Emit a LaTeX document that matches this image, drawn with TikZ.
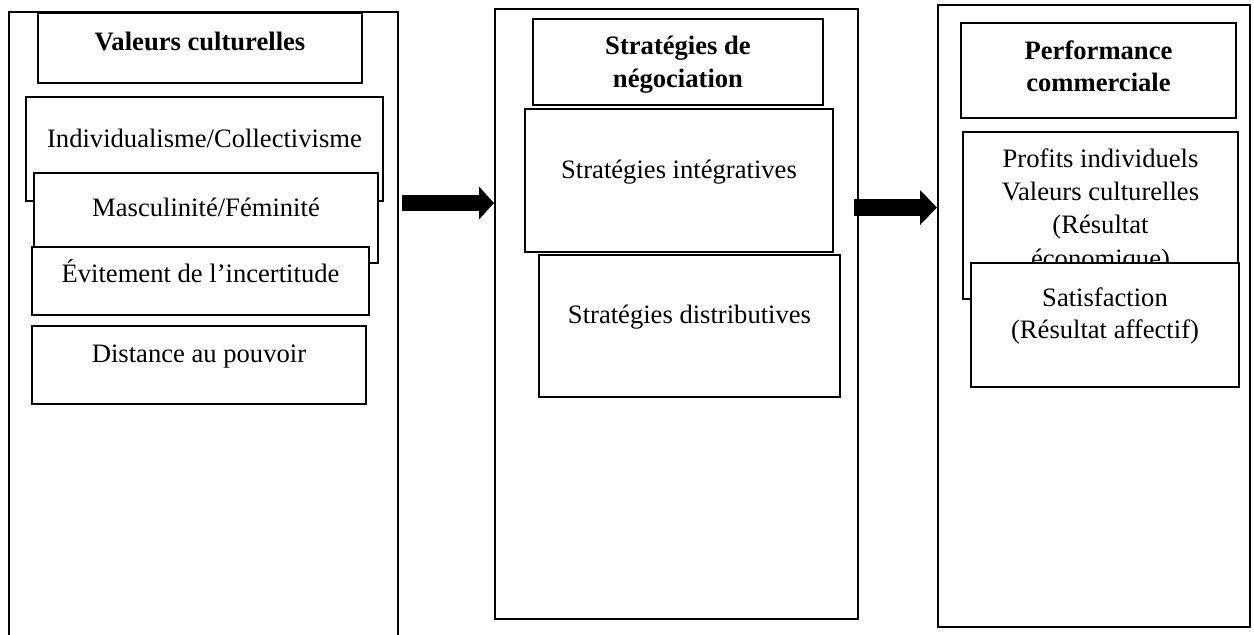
\documentclass[tikz,border=0pt]{standalone}
\usepackage{fontspec}
\setmainfont{Liberation Serif}
\usetikzlibrary{fit,arrows.meta,shadows}
\begin{document}
\begin{tikzpicture}[x=0.5pt,y=-0.5pt,
  box/.style={draw, line width=1pt, fill=white, inner sep=0pt,
    drop shadow={shadow xshift=0pt, shadow yshift=-0.7pt, fill=black!65, opacity=1}},
  frame/.style={box},
  txt/.style={font=\fontsize{13.3}{16}\selectfont, inner sep=0pt, anchor=base},
  btxt/.style={txt, font=\fontsize{13.3}{16}\selectfont\bfseries},
  bigarrowA/.style={line width=8pt, -{Triangle[length=7.5pt,width=16pt]}},
  bigarrowB/.style={line width=8.5pt, -{Triangle[length=8.5pt,width=17pt]}}
]
\useasboundingbox (0,0) rectangle (1254,634);

% ---------- column A ----------
\node[frame, fit={(9,12) (398,700)}] (colA) {};
\node[box, fit={(38,13) (362,83)}] (vc) {};
\node[btxt] (vct) at (200,50) {Valeurs culturelles};
\node[box, fit={(26,97) (383,201)}] (ind) {};
\node[txt] (indt) at (204.5,147) {Individualisme/Collectivisme};
\node[box, fit={(34,173) (378,263)}] (mas) {};
\node[txt] (mast) at (206,216) {Masculinité/Féminité};
\node[box, fit={(32,247) (369,315)}] (evi) {};
\node[txt] (evit) at (200.5,282) {Évitement de l’incertitude};
\node[box, fit={(32,326) (366,404)}] (dis) {};
\node[txt] (dist) at (199,362) {Distance au pouvoir};

% ---------- column B ----------
\node[frame, fit={(495,9) (858,619)}] (colB) {};
\node[box, fit={(533,19) (823,105)}] (sn) {};
\node[btxt] (snt1) at (678,54) {Stratégies de};
\node[btxt] (snt2) at (678,87) {négociation};
\node[box, fit={(525,109) (833,252)}] (si) {};
\node[txt] (sit) at (679,178) {Stratégies intégratives};
\node[box, fit={(539,255) (840,397)}] (sd) {};
\node[txt] (sdt) at (689.5,323) {Stratégies distributives};

% ---------- column C ----------
\node[frame, fit={(938,5) (1250,627)}] (colC) {};
\node[box, fit={(961,23) (1236,118)}] (pc) {};
\node[btxt] (pct1) at (1098.5,59) {Performance};
\node[btxt] (pct2) at (1098.5,91) {commerciale};
\node[box, fit={(963,132) (1238,299)}] (pi) {};
\node[txt] (pit1) at (1100.5,167) {Profits individuels};
\node[txt] (pit2) at (1100.5,200) {Valeurs culturelles};
\node[txt] (pit3) at (1100.5,233) {(Résultat};
\node[txt] (pit4) at (1100.5,267) {économique)};
\node[box, fit={(971,263) (1239,387)}] (sa) {};
\node[txt] (sat1) at (1105,306) {Satisfaction};
\node[txt] (sat2) at (1105,338) {(Résultat affectif)};

% ---------- arrows ----------
\coordinate (a1s) at (402,203);
\draw[bigarrowA] (a1s) -- (colB.west |- a1s);
\coordinate (a2s) at (854,207.5);
\draw[bigarrowB] (a2s) -- (colC.west |- a2s);
\end{tikzpicture}
\end{document}
